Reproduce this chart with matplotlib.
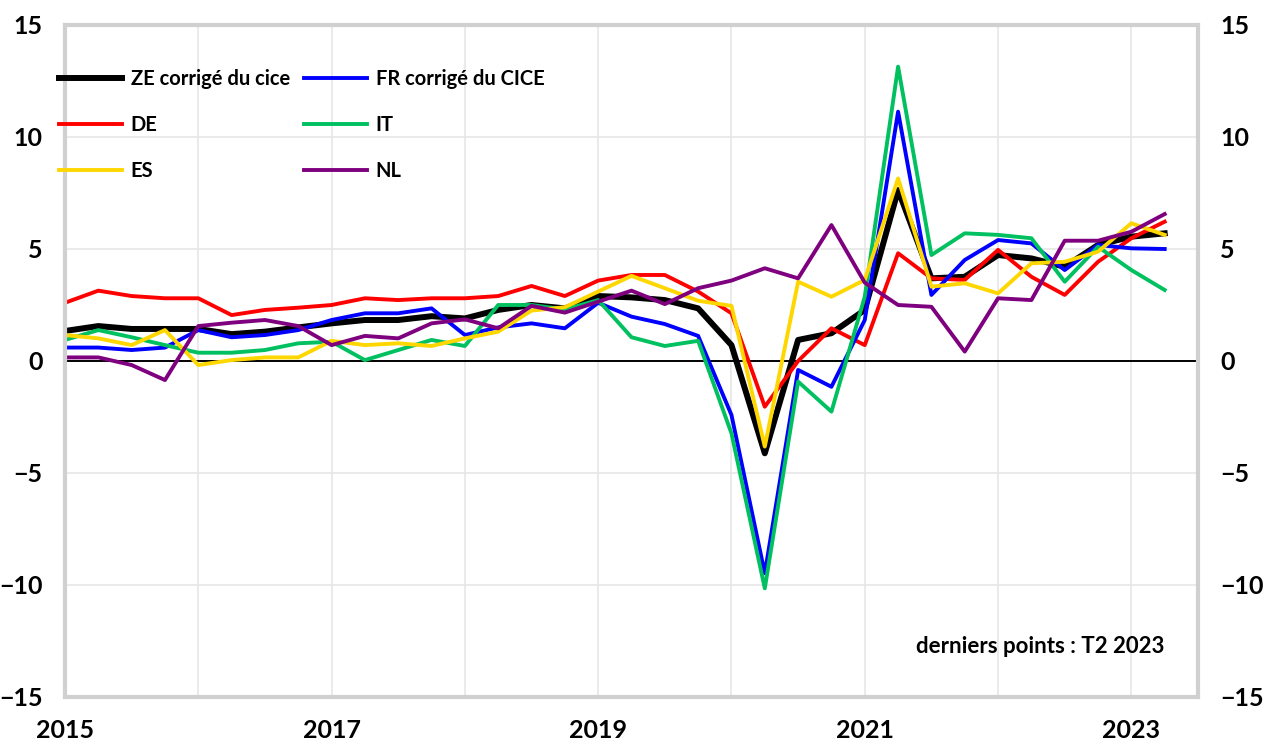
import numpy as np
import matplotlib.pyplot as plt

# trimestres T1 2015 -> T2 2023
periode = np.arange(34) * 0.25 + 2015

ze = [1.34, 1.56, 1.43, 1.43, 1.43, 1.2, 1.31, 1.5, 1.68, 1.83, 1.83, 2.0,
      1.9, 2.28, 2.5, 2.35, 2.9, 2.84, 2.72, 2.35, 0.71, -4.12, 0.94, 1.24,
      2.28, 7.63, 3.69, 3.76, 4.73, 4.58, 4.21, 5.18, 5.55, 5.7]
fr = [0.6, 0.6, 0.49, 0.6, 1.38, 1.06, 1.16, 1.38, 1.83, 2.13, 2.13, 2.35,
      1.16, 1.5, 1.68, 1.46, 2.6, 1.98, 1.65, 1.12, -2.41, -9.48, -0.4, -1.15,
      1.83, 11.13, 2.95, 4.51, 5.4, 5.25, 4.06, 5.18, 5.03, 5.0]
de = [2.6, 3.14, 2.9, 2.8, 2.8, 2.05, 2.28, 2.38, 2.5, 2.8, 2.72, 2.8,
      2.8, 2.9, 3.35, 2.9, 3.59, 3.84, 3.84, 3.1, 2.13, -2.04, 0.0, 1.46,
      0.71, 4.81, 3.69, 3.62, 4.96, 3.76, 2.95, 4.43, 5.48, 6.22]
it = [0.94, 1.38, 1.06, 0.71, 0.37, 0.37, 0.49, 0.79, 0.86, 0.04, 0.49, 0.94,
      0.67, 2.5, 2.5, 2.3, 2.72, 1.06, 0.67, 0.9, -3.23, -10.15, -0.92, -2.26,
      2.87, 13.14, 4.73, 5.7, 5.63, 5.48, 3.54, 5.1, 4.06, 3.17]
es = [1.16, 1.01, 0.71, 1.38, -0.18, 0.04, 0.16, 0.16, 0.9, 0.71, 0.79, 0.67,
      1.01, 1.31, 2.25, 2.4, 3.1, 3.8, 3.25, 2.69, 2.46, -3.82, 3.54, 2.87,
      3.62, 8.15, 3.32, 3.47, 3.02, 4.36, 4.43, 4.88, 6.15, 5.63]
nl = [0.16, 0.16, -0.18, -0.85, 1.56, 1.71, 1.83, 1.56, 0.71, 1.12, 1.01, 1.68,
      1.86, 1.46, 2.46, 2.16, 2.65, 3.14, 2.54, 3.25, 3.59, 4.14, 3.69, 6.07,
      3.5, 2.5, 2.42, 0.42, 2.8, 2.72, 5.37, 5.37, 5.77, 6.56]

plt.rcParams['font.family'] = ['Lato', 'DejaVu Sans']
plt.rcParams['font.weight'] = 'bold'

fig = plt.figure(figsize=(12.69, 7.44), dpi=100)
ax = fig.add_axes([65 / 1269, 1 - 697 / 744, (1198 - 65) / 1269, (697 - 25) / 744])

gris = '#D0D0D0'
ax.set_xlim(2015, 2023.5)
ax.set_ylim(-15, 15)
ax.set_xticks(np.arange(2015, 2024))
ax.set_xticklabels([str(a) if a % 2 == 1 else '' for a in range(2015, 2024)])
ax.set_yticks(np.arange(-15, 16, 5))
ax.grid(True, color='#E6E6E6', linewidth=1.2)
ax.set_axisbelow(True)
ax.axhline(0, color='black', linewidth=1.4, zorder=1.5)

for s in ax.spines.values():
    s.set_color(gris)
    s.set_linewidth(3)

ax.tick_params(length=0, labelsize=18)
ax.tick_params(axis='y', labelright=True, right=False, pad=16)
ax.tick_params(axis='x', pad=16)
for t in ax.get_xticklabels() + ax.get_yticklabels():
    t.set_fontweight('bold')

l_ze, = ax.plot(periode, ze, color='black', lw=4.3, label='ZE corrigé du cice')
l_de, = ax.plot(periode, de, color='#FF0000', lw=2.8, label='DE')
l_fr, = ax.plot(periode, fr, color='#0000FF', lw=2.8, label='FR corrigé du CICE')
l_it, = ax.plot(periode, it, color='#00C060', lw=2.8, label='IT')
l_es, = ax.plot(periode, es, color='#FFD700', lw=2.8, label='ES')
l_nl, = ax.plot(periode, nl, color='#7F007F', lw=2.8, label='NL')

ax.legend(handles=[l_ze, l_de, l_es, l_fr, l_it, l_nl], ncol=2, loc='upper left',
          frameon=False, prop={'size': 14.5, 'weight': 'bold'}, handlelength=3.1,
          handletextpad=0.45, columnspacing=0.7, labelspacing=1.3,
          bbox_to_anchor=(-0.021, 0.962))

ax.text(0.97, 0.075, 'derniers points : T2 2023', transform=ax.transAxes,
        ha='right', va='center', fontsize=16, fontweight='bold')

fig.savefig('out.png', dpi=100)
